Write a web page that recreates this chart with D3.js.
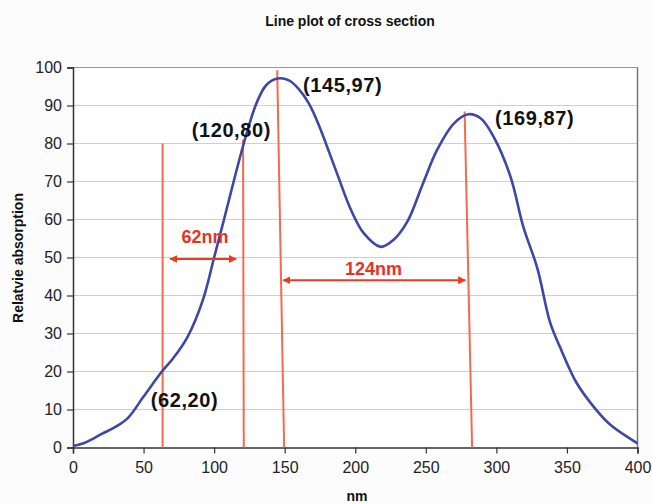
<!DOCTYPE html>
<html>
<head>
<meta charset="utf-8">
<script src="https://cdn.jsdelivr.net/npm/d3@7"></script>
<style>
  body { margin: 0; background: #fcfcfd; }
  svg { display: block; font-family: "Liberation Sans", Arial, sans-serif; }
</style>
</head>
<body>
<svg id="chart" width="652" height="504"></svg>
<script>
// profil de la coupe (nm, absorption relative)
const posNm = [0, 8, 20, 31, 39, 50, 63, 71, 81, 92, 100, 107, 121, 130, 137, 145, 153, 160, 167, 174, 187,
  197, 206, 218, 227, 237, 248, 258, 270, 280, 289, 298, 310, 319, 329, 338, 345, 357, 369, 381, 400];
const absorption = [0.4, 1.2, 3.5, 5.6, 7.8, 13.4, 20, 23.5, 29, 38.8, 50, 60, 80, 90.6, 95.4, 97.1, 96.6, 94.3, 90.6, 85, 72.2,
  62.5, 56.4, 52.8, 54.6, 59.5, 69.5, 78.3, 85.3, 87.7, 86.6, 81.8, 71.3, 58.2, 47.2, 33, 26.5, 16.9, 10.7, 5.9, 1.1];

const xTicks = [0, 50, 100, 150, 200, 250, 300, 350, 400];
const yTicks = [0, 10, 20, 30, 40, 50, 60, 70, 80, 90, 100];

// lignes rouges verticales [x haut, y haut, x bas, y bas]
const markerLines = [[63.5, 80, 63.5, 0], [120.5, 81, 121, 0], [144.7, 99.3, 149.6, 0], [277.5, 88.4, 282.8, 0]];
// fleches de largeur [x debut, x fin, y]
const widthArrows = [[68.8, 115.6, 49.6], [149, 278, 44]];
const widthLabels = [["62nm", 93.6, 55.3], ["124nm", 213, 46.9]];
// etiquettes des points [texte, x gauche, y centre]
const pointLabels = [["(145,97)", 163, 95.4], ["(169,87)", 299, 86.7], ["(120,80)", 84.1, 83.6], ["(62,20)", 55.1, 12.5]];

const svg = d3.select('#chart');
const margin = { top: 67.5, right: 14.5, bottom: 56.5, left: 73 };
const width = +svg.attr('width') - margin.left - margin.right;
const height = +svg.attr('height') - margin.top - margin.bottom;

const x = d3.scaleLinear().domain([0, 400]).range([0, width]);
const y = d3.scaleLinear().domain([0, 100]).range([height, 0]);

const g = svg.append('g').attr('transform', `translate(${margin.left},${margin.top})`);

g.append('rect').attr('width', width).attr('height', height).attr('fill', '#ffffff');

// grille horizontale
g.selectAll('.grid').data(yTicks.slice(1, -1)).enter().append('line')
  .attr('x1', 0).attr('x2', width)
  .attr('y1', d => y(d)).attr('y2', d => y(d))
  .attr('stroke', '#a9dced').attr('stroke-width', 1);

// bordure haut + droite
g.append('line').attr('x1', 0).attr('x2', width).attr('y1', 0).attr('y2', 0).attr('stroke', '#999').attr('stroke-width', 1);
g.append('line').attr('x1', width).attr('x2', width).attr('y1', 0).attr('y2', height).attr('stroke', '#777').attr('stroke-width', 1.5);

// axes
const xAxis = g.append('g').attr('transform', `translate(0,${height})`)
  .call(d3.axisBottom(x).tickValues(xTicks).tickSize(6).tickPadding(8));
const yAxis = g.append('g')
  .call(d3.axisLeft(y).tickValues(yTicks).tickSize(6).tickPadding(5));
[xAxis, yAxis].forEach(a => {
  a.select('.domain').attr('stroke', '#333').attr('stroke-width', 1.5);
  a.selectAll('.tick line').attr('stroke', '#333').attr('stroke-width', 1.2);
  a.selectAll('.tick text').attr('font-size', 16).attr('fill', '#222')
    .attr('font-family', '"Liberation Sans", Arial, sans-serif');
});

// lignes rouges
g.selectAll('.marker').data(markerLines).enter().append('line')
  .attr('x1', d => x(d[0])).attr('y1', d => y(d[1]))
  .attr('x2', d => x(d[2])).attr('y2', d => y(d[3]))
  .attr('stroke', '#f36a4e').attr('stroke-width', 2);

// courbe
const line = d3.line().x((d, i) => x(posNm[i])).y(d => y(d)).curve(d3.curveCatmullRom.alpha(0.5));
g.append('path').datum(absorption)
  .attr('d', line).attr('fill', 'none')
  .attr('stroke', '#3d47a6').attr('stroke-width', 2.6);

// fleches
const defs = svg.append('defs');
defs.append('marker').attr('id', 'head').attr('viewBox', '0 0 10 10')
  .attr('refX', 9).attr('refY', 5).attr('markerWidth', 4).attr('markerHeight', 4)
  .attr('orient', 'auto-start-reverse')
  .append('path').attr('d', 'M0,0 L10,5 L0,10 Z').attr('fill', '#ec3a22');

g.selectAll('.arrow').data(widthArrows).enter().append('line')
  .attr('x1', d => x(d[0])).attr('x2', d => x(d[1]))
  .attr('y1', d => y(d[2])).attr('y2', d => y(d[2]))
  .attr('stroke', '#ec3a22').attr('stroke-width', 2)
  .attr('marker-start', 'url(#head)').attr('marker-end', 'url(#head)');

g.selectAll('.wlabel').data(widthLabels).enter().append('text')
  .attr('x', d => x(d[1])).attr('y', d => y(d[2]))
  .attr('text-anchor', 'middle').attr('dominant-baseline', 'central')
  .attr('font-size', 18).attr('font-weight', 'bold').attr('fill', '#e8321e')
  .text(d => d[0]);

g.selectAll('.plabel').data(pointLabels).enter().append('text')
  .attr('x', d => x(d[1])).attr('y', d => y(d[2]))
  .attr('dominant-baseline', 'central')
  .attr('font-size', 20).attr('font-weight', 'bold').attr('fill', '#111')
  .attr('letter-spacing', 0.6)
  .text(d => d[0]);

// titres
svg.append('text').attr('x', 350).attr('y', 21).attr('text-anchor', 'middle')
  .attr('dominant-baseline', 'central')
  .attr('font-size', 14).attr('font-weight', 'bold').attr('fill', '#111')
  .text('Line plot of cross section');
svg.append('text').attr('x', 357).attr('y', 496).attr('text-anchor', 'middle')
  .attr('dominant-baseline', 'central')
  .attr('font-size', 14).attr('font-weight', 'bold').attr('fill', '#111')
  .text('nm');
svg.append('text').attr('transform', 'translate(18,258) rotate(-90)')
  .attr('text-anchor', 'middle').attr('dominant-baseline', 'central')
  .attr('font-size', 14).attr('font-weight', 'bold').attr('fill', '#111')
  .text('Relatvie absorption');
</script>
</body>
</html>
